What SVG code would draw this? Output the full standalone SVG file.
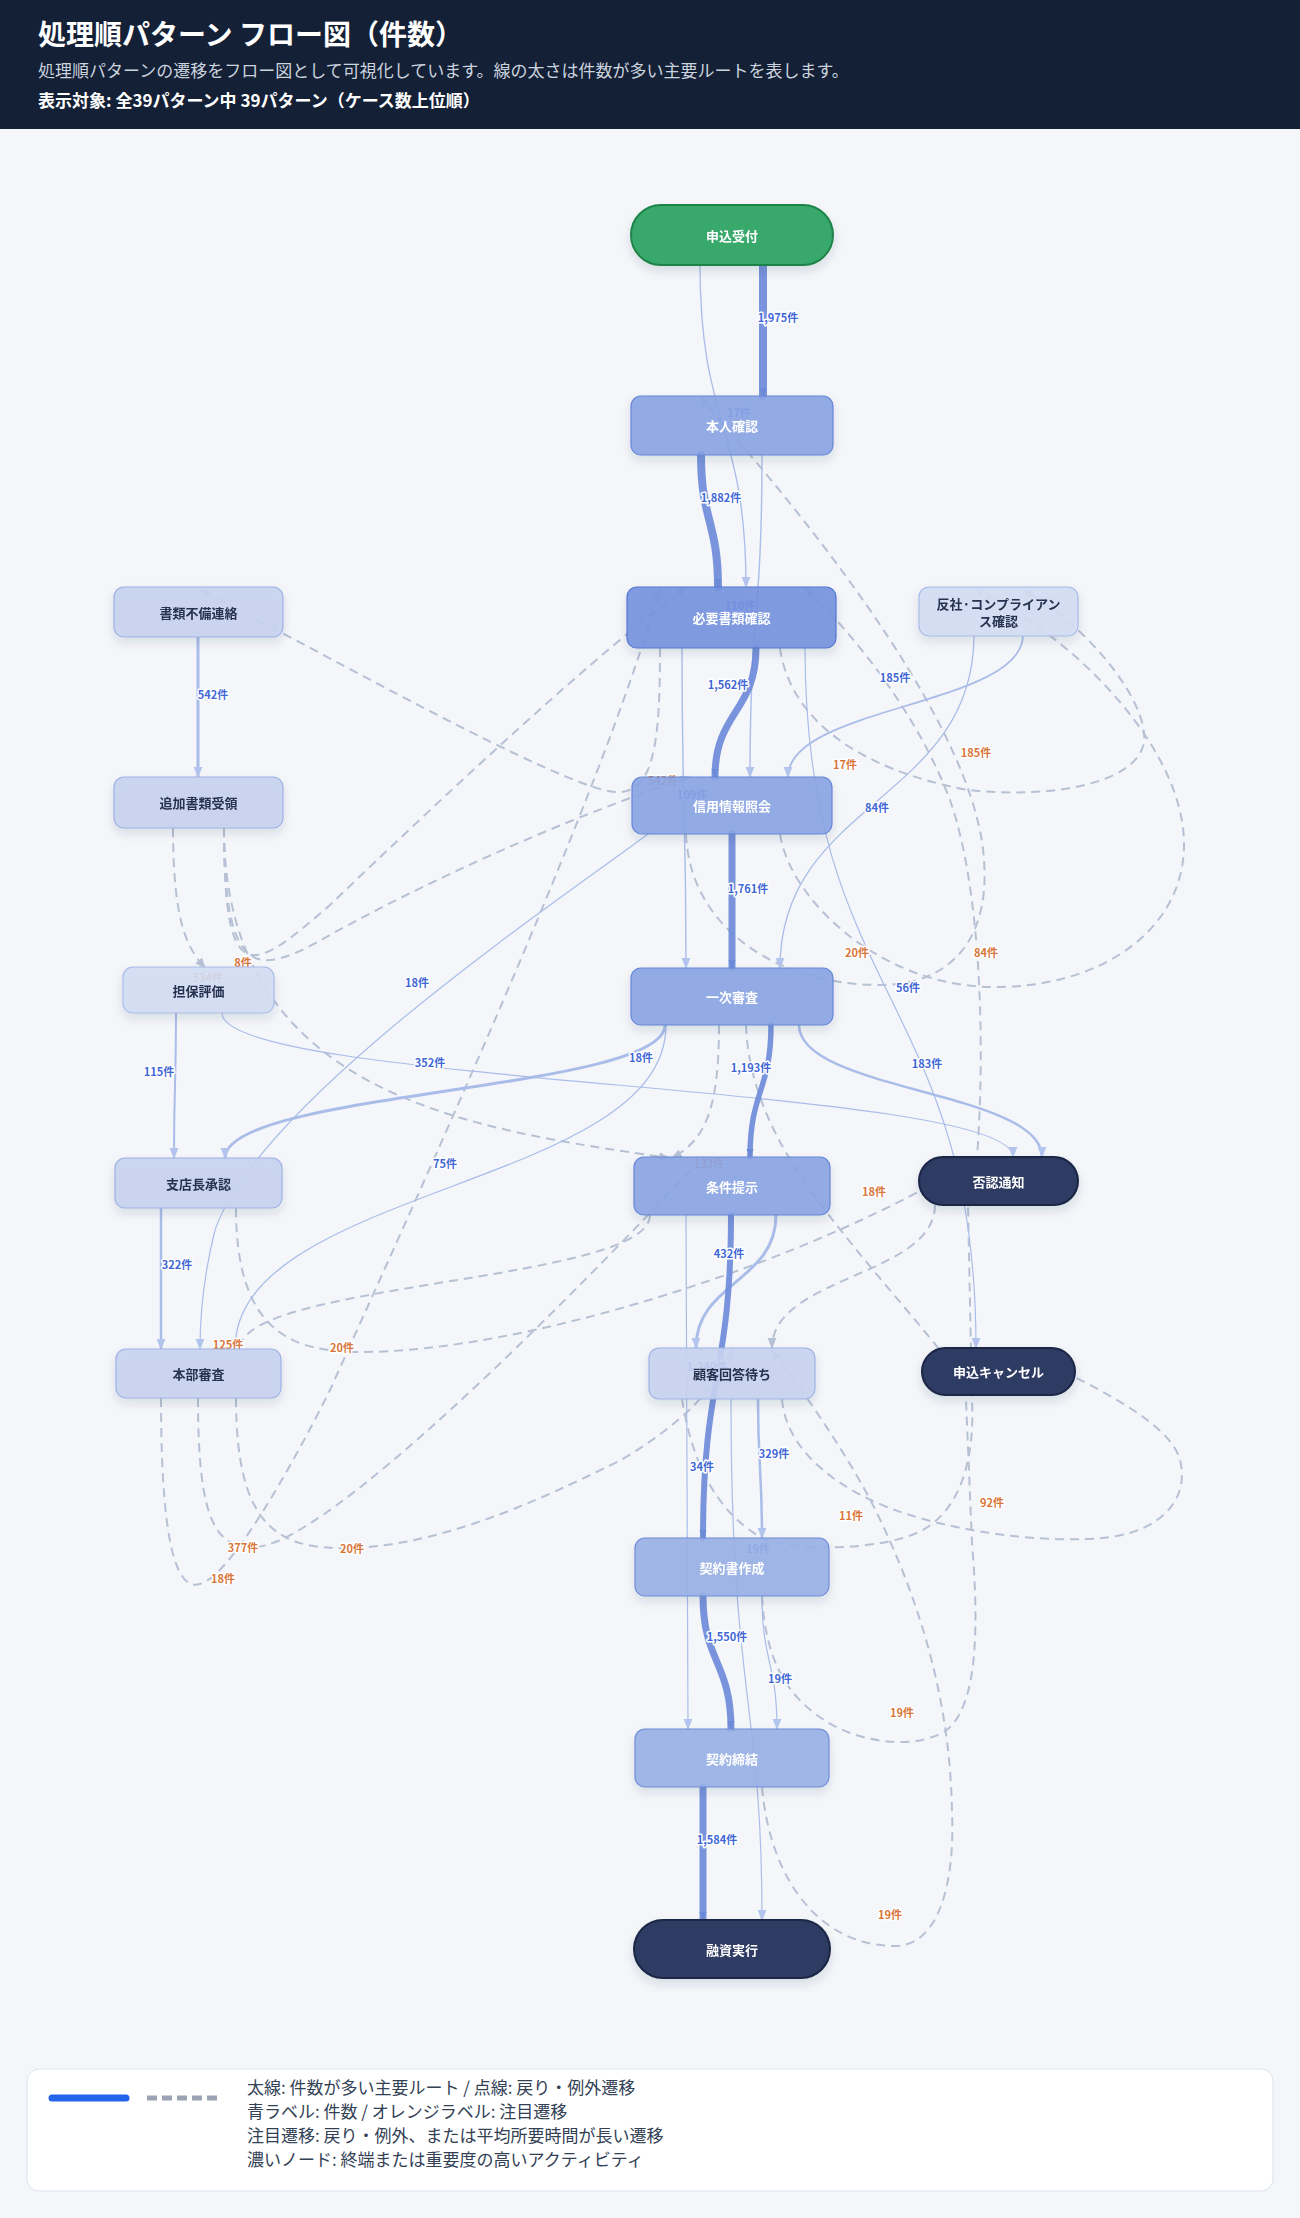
<svg xmlns="http://www.w3.org/2000/svg" width="1300" height="2218" viewBox="0 0 1300 2218">
<style>
.title{font:700 28px "Noto Sans CJK JP","Noto Sans",sans-serif;fill:#fff}
.sub{font:400 17px "Noto Sans CJK JP","Noto Sans",sans-serif;fill:#cbd3df}
.sub2{font:700 17px "Noto Sans CJK JP","Noto Sans",sans-serif;fill:#fff}
.em{fill:none;stroke:#6b8ad8;stroke-opacity:.9;stroke-linecap:round}
.es{fill:none;stroke:#aabde9}
.ed{fill:none;stroke:#b7c1d4;stroke-width:2;stroke-dasharray:9 6}
.lb{font:700 11px "Noto Sans CJK JP","Noto Sans",sans-serif;text-anchor:middle;dominant-baseline:central;paint-order:stroke;stroke:#fff;stroke-width:3;stroke-linejoin:round}
.b{fill:#3f67d6}.o{fill:#d8763a}
.nt{font:700 13px "Noto Sans CJK JP","Noto Sans",sans-serif;text-anchor:middle;dominant-baseline:central}
.w{fill:#fff}.d{fill:#26324f}
.n1{fill:#8aa4e3;fill-opacity:.9;stroke:#6686d6;stroke-width:1.2}
.n0{fill:#7794df;fill-opacity:.92;stroke:#5576d0;stroke-width:1.2}
.n2{fill:#98b0e6;fill-opacity:.9;stroke:#6e8cd8;stroke-width:1.2}
.nl{fill:#c6d3f0;fill-opacity:.9;stroke:#9db1e5;stroke-width:1.2}
.nx{fill:#d3ddf3;fill-opacity:.9;stroke:#a8bbe8;stroke-width:1.2}
.nd{fill:#2e3a63;stroke:#1b2546;stroke-width:2}
.ng{fill:#38a96a;stroke:#1f8448;stroke-width:2}
.lg{font:400 17px "Noto Sans CJK JP","Noto Sans",sans-serif;fill:#334155}
</style>
<defs>
<filter id="sh" x="-20%" y="-30%" width="140%" height="170%"><feDropShadow dx="0" dy="5" stdDeviation="5" flood-color="#1e2a4a" flood-opacity=".13"/></filter>
<marker id="am" viewBox="0 0 10 10" refX="9" refY="5" markerWidth="9" markerHeight="9" markerUnits="userSpaceOnUse" orient="auto"><path d="M0,1 L10,5 L0,9 z" fill="#6b8ad8"/></marker>
<marker id="as" viewBox="0 0 10 10" refX="9" refY="5" markerWidth="11" markerHeight="11" markerUnits="userSpaceOnUse" orient="auto"><path d="M0,1 L10,5 L0,9 z" fill="#b3c5ee"/></marker>
<marker id="ad" viewBox="0 0 10 10" refX="9" refY="5" markerWidth="11" markerHeight="11" markerUnits="userSpaceOnUse" orient="auto"><path d="M0,1 L10,5 L0,9 z" fill="#b7c1d4"/></marker>
</defs>
<rect width="1300" height="2218" fill="#f4f6fa"/>
<rect width="1300" height="129" fill="#142036"/>
<text class="title" x="38" y="45">処理順パターン フロー図（件数）</text>
<text class="sub" x="38" y="77">処理順パターンの遷移をフロー図として可視化しています。線の太さは件数が多い主要ルートを表します。</text>
<text class="sub2" x="38" y="107">表示対象: 全39パターン中 39パターン（ケース数上位順）</text>

<g id="connectors">
<!-- dashed -->
<path class="ed" marker-end="url(#ad)" d="M660,648 C660,740 655,795 615,792 C560,788 300,640 200,590"/>
<path class="ed" marker-end="url(#ad)" d="M224,828 C224,990 250,975 330,905 C450,790 600,650 686,588"/>
<path class="ed" marker-end="url(#ad)" d="M224,828 C224,985 260,975 330,935 C420,885 560,820 690,777"/>
<path class="ed" marker-end="url(#ad)" d="M173,828 C173,930 190,950 205,968"/>
<path class="ed" marker-end="url(#ad)" d="M224,828 C224,1100 480,1130 669,1158"/>
<path class="ed" marker-end="url(#ad)" d="M161,1398 C161,1560 180,1590 200,1584 C230,1576 290,1470 330,1390 C420,1190 600,800 660,588"/>
<path class="ed" marker-end="url(#ad)" d="M780,648 C790,720 860,770 968,790 C1060,800 1150,780 1144,733 C1140,690 1080,620 1023,590"/>
<path class="ed" marker-end="url(#ad)" d="M780,834 C790,900 880,985 990,987 C1100,989 1185,930 1184,843 C1183,750 1080,640 974,588"/>
<path class="ed" marker-end="url(#ad)" d="M686,834 C690,930 780,985 880,985 C950,985 990,940 984,860 C978,760 880,600 700,397"/>
<path class="ed" d="M236,1208 C236,1330 290,1352 360,1352 C520,1352 780,1270 940,1180"/>
<path class="ed" marker-end="url(#ad)" d="M975,1180 C985,1080 985,900 950,800 C920,720 860,640 805,588"/>
<path class="ed" marker-end="url(#ad)" d="M719,1025 C719,1110 705,1140 672,1158"/>
<path class="ed" d="M746,1025 C748,1080 770,1130 800,1175 C840,1235 900,1300 948,1360"/>
<path class="ed" marker-end="url(#ad)" d="M650,1215 C650,1282 240,1282 240,1349"/>
<path class="ed" marker-end="url(#ad)" d="M198,1398 C198,1520 215,1550 257,1547 C330,1540 560,1310 703,1157"/>
<path class="ed" marker-end="url(#ad)" d="M236,1398 C236,1530 280,1550 352,1548 C450,1545 560,1490 621,1460 C680,1425 715,1390 733,1350"/>
<path class="ed" marker-end="url(#ad)" d="M935,1205 C935,1276 772,1276 772,1348"/>
<path class="ed" d="M782,1399 C785,1440 820,1480 887,1507 C950,1532 1050,1545 1111,1537 C1160,1530 1190,1500 1180,1460 C1170,1420 1080,1380 1040,1360"/>
<path class="ed" d="M682,1399 C690,1450 710,1510 764,1539 C800,1552 880,1550 919,1532 C960,1512 975,1460 972,1400 L968,1205"/>
<path class="ed" d="M762,1596 C765,1650 780,1690 821,1718 C860,1745 920,1750 948,1729 C975,1705 980,1640 972,1543 L966,1400"/>
<path class="ed" marker-end="url(#ad)" d="M762,1787 C770,1880 820,1946 895,1946 C940,1946 955,1880 952,1811 C950,1700 920,1600 874,1507 C850,1460 810,1400 772,1350"/>
<!-- solid thin -->
<path class="es" stroke-width="1.3" marker-end="url(#as)" d="M700,265 C700,426 746,426 746,587"/>
<path class="es" stroke-width="1.4" marker-end="url(#as)" d="M762,455 C762,616 750,616 750,777"/>
<path class="es" stroke-width="1.4" marker-end="url(#as)" d="M682,648 C682,808 686,808 686,968"/>
<path class="es" stroke-width="1.8" marker-end="url(#as)" d="M1023,635 C1023,706 788,706 788,777"/>
<path class="es" stroke-width="1.3" marker-end="url(#as)" d="M974,635 C974,801 780,801 780,968"/>
<path class="es" stroke-width="1.2" marker-end="url(#as)" d="M805,648 C805,998 976,998 976,1348"/>
<path class="es" stroke-width="1.2" marker-end="url(#as)" d="M222,1013 C222,1085 1013,1085 1013,1157"/>
<path class="es" stroke-width="1.3" marker-end="url(#as)" d="M666,1025 C666,1187 235,1187 235,1349"/>
<path class="es" stroke-width="1.2" marker-end="url(#as)" d="M648,834 C560,900 260,1100 215,1230 C205,1270 200,1310 200,1349"/>
<path class="es" stroke-width="1.2" marker-end="url(#as)" d="M686,1215 C686,1472 688,1472 688,1729"/>
<path class="es" stroke-width="1.2" marker-end="url(#as)" d="M731,1399 C731,1700 762,1700 762,1920"/>
<path class="es" stroke-width="1.2" marker-end="url(#as)" d="M762,1596 C762,1662 777,1662 777,1729"/>
<!-- solid medium -->
<path class="es" stroke-width="3" marker-end="url(#as)" d="M198,637 L198,777"/>
<path class="es" stroke-width="2" marker-end="url(#as)" d="M176,1013 C176,1085 174,1085 174,1158"/>
<path class="es" stroke-width="2.5" marker-end="url(#as)" d="M161,1208 L161,1349"/>
<path class="es" stroke-width="3" marker-end="url(#as)" d="M665,1025 C665,1091 225,1091 225,1158"/>
<path class="es" stroke-width="2.5" marker-end="url(#as)" d="M799,1025 C799,1091 1042,1091 1042,1157"/>
<path class="es" stroke-width="3" marker-end="url(#as)" d="M776,1215 C776,1282 696,1282 696,1348"/>
<path class="es" stroke-width="2.5" marker-end="url(#as)" d="M758,1399 C758,1468 762,1468 762,1538"/>
<!-- main -->
<path class="em" stroke-width="8" marker-end="url(#am)" d="M763,265 L763,396"/>
<path class="em" stroke-width="8" marker-end="url(#am)" d="M701,455 C701,521 718,521 718,587"/>
<path class="em" stroke-width="7" marker-end="url(#am)" d="M756,648 C756,712 715,712 715,777"/>
<path class="em" stroke-width="7" marker-end="url(#am)" d="M732,834 L732,968"/>
<path class="em" stroke-width="5.5" marker-end="url(#am)" d="M771,1025 C771,1091 750,1091 750,1157"/>
<path class="em" stroke-width="6" marker-end="url(#am)" d="M731,1215 C731,1376 703,1376 703,1538"/>
<path class="em" stroke-width="7" marker-end="url(#am)" d="M703,1596 C703,1662 731,1662 731,1729"/>
<path class="em" stroke-width="7" marker-end="url(#am)" d="M703,1787 L703,1920"/>
</g>

<g id="labels">
<text class="lb b" x="778" y="317">1,975件</text>
<text class="lb b" x="739" y="412">17件</text>
<text class="lb b" x="721" y="497">1,882件</text>
<text class="lb b" x="740" y="605">110件</text>
<text class="lb b" x="213" y="694">542件</text>
<text class="lb b" x="728" y="684">1,562件</text>
<text class="lb b" x="895" y="677">185件</text>
<text class="lb o" x="976" y="752">185件</text>
<text class="lb o" x="845" y="764">17件</text>
<text class="lb o" x="663" y="780">542件</text>
<text class="lb b" x="692" y="794">109件</text>
<text class="lb b" x="877" y="807">84件</text>
<text class="lb b" x="748" y="888">1,761件</text>
<text class="lb o" x="857" y="952">20件</text>
<text class="lb o" x="986" y="952">84件</text>
<text class="lb o" x="243" y="962">8件</text>
<text class="lb o" x="208" y="977">534件</text>
<text class="lb b" x="417" y="982">18件</text>
<text class="lb b" x="908" y="987">56件</text>
<text class="lb b" x="430" y="1062">352件</text>
<text class="lb b" x="641" y="1057">18件</text>
<text class="lb b" x="751" y="1067">1,193件</text>
<text class="lb b" x="927" y="1063">183件</text>
<text class="lb b" x="159" y="1071">115件</text>
<text class="lb b" x="445" y="1163">75件</text>
<text class="lb o" x="709" y="1163">133件</text>
<text class="lb o" x="874" y="1191">18件</text>
<text class="lb b" x="729" y="1253">432件</text>
<text class="lb b" x="177" y="1264">322件</text>
<text class="lb o" x="228" y="1344">125件</text>
<text class="lb o" x="342" y="1347">20件</text>
<text class="lb b" x="707" y="1366">1,240件</text>
<text class="lb b" x="774" y="1453">329件</text>
<text class="lb b" x="702" y="1466">34件</text>
<text class="lb o" x="992" y="1502">92件</text>
<text class="lb o" x="851" y="1515">11件</text>
<text class="lb o" x="243" y="1547">377件</text>
<text class="lb o" x="352" y="1548">20件</text>
<text class="lb o" x="223" y="1578">18件</text>
<text class="lb b" x="758" y="1548">19件</text>
<text class="lb b" x="727" y="1636">1,550件</text>
<text class="lb b" x="780" y="1678">19件</text>
<text class="lb o" x="902" y="1712">19件</text>
<text class="lb b" x="717" y="1839">1,584件</text>
<text class="lb o" x="890" y="1914">19件</text>
</g>

<g id="n-start" filter="url(#sh)"><rect class="ng" x="631" y="205" width="202" height="60" rx="30"/><text class="nt w" x="732" y="235">申込受付</text></g>
<g id="n-id" filter="url(#sh)"><rect class="n1" x="631" y="396" width="202" height="59" rx="10"/><text class="nt w" x="732" y="425.5">本人確認</text></g>
<g id="n-doc" filter="url(#sh)"><rect class="n0" x="627" y="587" width="209" height="61" rx="10"/><text class="nt w" x="731.5" y="617.5">必要書類確認</text></g>
<g id="n-def" filter="url(#sh)"><rect class="nl" x="114" y="587" width="169" height="50" rx="10"/><text class="nt d" x="198.5" y="612">書類不備連絡</text></g>
<g id="n-aml" filter="url(#sh)"><rect class="nx" x="919" y="587" width="159" height="49" rx="10"/><text class="nt d" x="998.5" y="603">反社·コンプライアン</text><text class="nt d" x="998.5" y="620">ス確認</text></g>
<g id="n-add" filter="url(#sh)"><rect class="nl" x="114" y="777" width="169" height="51" rx="10"/><text class="nt d" x="198.5" y="802.5">追加書類受領</text></g>
<g id="n-cr" filter="url(#sh)"><rect class="n1" x="632" y="777" width="200" height="57" rx="10"/><text class="nt w" x="732" y="805.5">信用情報照会</text></g>
<g id="n-col" filter="url(#sh)"><rect class="nx" x="123" y="967" width="151" height="46" rx="10"/><text class="nt d" x="198.5" y="990">担保評価</text></g>
<g id="n-r1" filter="url(#sh)"><rect class="n1" x="631" y="968" width="202" height="57" rx="10"/><text class="nt w" x="732" y="996.5">一次審査</text></g>
<g id="n-br" filter="url(#sh)"><rect class="nl" x="115" y="1158" width="167" height="50" rx="10"/><text class="nt d" x="198.5" y="1183">支店長承認</text></g>
<g id="n-term" filter="url(#sh)"><rect class="n1" x="634" y="1157" width="196" height="58" rx="10"/><text class="nt w" x="732" y="1186">条件提示</text></g>
<g id="n-rej" filter="url(#sh)"><rect class="nd" x="919" y="1157" width="159" height="48" rx="24"/><text class="nt w" x="998.5" y="1181">否認通知</text></g>
<g id="n-hq" filter="url(#sh)"><rect class="nl" x="116" y="1349" width="165" height="49" rx="10"/><text class="nt d" x="198.5" y="1373.5">本部審査</text></g>
<g id="n-wait" filter="url(#sh)"><rect class="nl" x="649" y="1348" width="166" height="51" rx="10"/><text class="nt d" x="732" y="1373.5">顧客回答待ち</text></g>
<g id="n-can" filter="url(#sh)"><rect class="nd" x="922" y="1348" width="153" height="47" rx="23.5"/><text class="nt w" x="998.5" y="1371.5">申込キャンセル</text></g>
<g id="n-con" filter="url(#sh)"><rect class="n2" x="635" y="1538" width="194" height="58" rx="10"/><text class="nt w" x="732" y="1567">契約書作成</text></g>
<g id="n-sign" filter="url(#sh)"><rect class="n2" x="635" y="1729" width="194" height="58" rx="10"/><text class="nt w" x="732" y="1758">契約締結</text></g>
<g id="n-exe" filter="url(#sh)"><rect class="nd" x="634" y="1920" width="196" height="58" rx="29"/><text class="nt w" x="732" y="1949">融資実行</text></g>

<g id="legend">
<rect x="27" y="2069" width="1246" height="122" rx="12" fill="#fff" stroke="#dce3ee"/>
<line x1="52" y1="2098" x2="126" y2="2098" stroke="#2563eb" stroke-width="7" stroke-linecap="round"/>
<line x1="147" y1="2098" x2="222" y2="2098" stroke="#9ca3b4" stroke-width="5" stroke-dasharray="10 5"/>
<text class="lg" x="247" y="2094">太線: 件数が多い主要ルート / 点線: 戻り・例外遷移</text>
<text class="lg" x="247" y="2118">青ラベル: 件数 / オレンジラベル: 注目遷移</text>
<text class="lg" x="247" y="2142">注目遷移: 戻り・例外、または平均所要時間が長い遷移</text>
<text class="lg" x="247" y="2166">濃いノード: 終端または重要度の高いアクティビティ</text>
</g>
</svg>
